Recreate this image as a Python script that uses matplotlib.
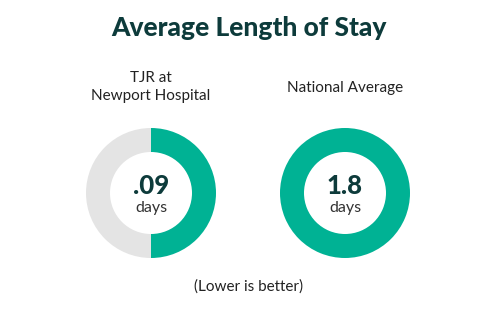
import matplotlib.pyplot as plt

plt.rcParams['font.family'] = ['Lato', 'DejaVu Sans']

# data
groups = ['TJR at\nNewport Hospital', 'National Average']
values = ['.09', '1.8']
fill_share = [0.5, 1.0]   # green part of each ring
units = 'days'

green = '#00b294'
grey = '#e4e4e4'
dark = '#0d3b3b'
text_col = '#222222'

fig = plt.figure(figsize=(4.97, 3.31), dpi=100)
ax = fig.add_axes([0, 0, 1, 1])

H = 331
centers_x = [151, 345]
cy = H - 193

for i, g in enumerate(groups):
    share = fill_share[i]
    sizes = [share, 1 - share] if share < 1 else [1]
    cols = [green, grey] if share < 1 else [green]
    ax.pie(sizes, colors=cols, center=(centers_x[i], cy), radius=65,
           startangle=90, counterclock=False,
           wedgeprops=dict(width=24, linewidth=0), frame=True)
    ax.text(centers_x[i], H - 186, values[i], ha='center', va='center',
            fontsize=18.5, fontweight='black', color=dark)
    ax.text(centers_x[i], H - 208, units, ha='center', va='center',
            fontsize=11.5, color='#333333')

ax.text(151, H - 87, groups[0], ha='center', va='center', fontsize=11,
        color=text_col, linespacing=1.3)
ax.text(345, H - 88, groups[1], ha='center', va='center', fontsize=11,
        color=text_col)

ax.set_xlim(0, 497)
ax.set_ylim(0, 331)
ax.set_aspect('equal')
ax.axis('off')

fig.text(0.5, 1 - 28 / H, 'Average Length of Stay', ha='center', va='center',
         fontsize=19, fontweight='black', color=dark)
fig.text(0.5, 1 - 287 / H, '(Lower is better)', ha='center', va='center',
         fontsize=11, color=text_col)

fig.savefig('out.png', dpi=100, facecolor='white')
